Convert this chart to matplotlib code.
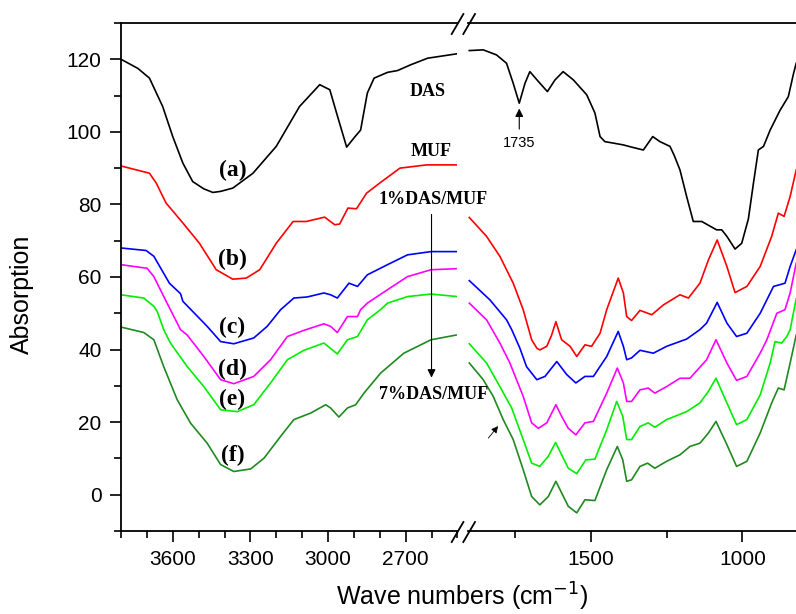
import matplotlib
matplotlib.use('Agg')
import matplotlib.pyplot as plt
from matplotlib.lines import Line2D
from matplotlib.ticker import MultipleLocator, FixedLocator

# ---------------- data ----------------
# (a) DAS
a_left_wn = [3800, 3735, 3690, 3639, 3600, 3561, 3523, 3480, 3445, 3415, 3368, 3290, 3200, 3110, 3032, 2993,
             2967, 2928, 2900, 2874, 2848, 2822, 2770, 2731, 2680, 2615, 2503]
a_left_v = [120, 117.5, 114.8, 107, 98.7, 91.4, 86.3, 84.3, 83.3, 83.6, 84.5, 88.6, 96, 107, 113, 111.6,
            105.2, 95.8, 98.3, 100.5, 110.7, 114.8, 116.4, 116.9, 118.5, 120.3, 121.5]
a_right_wn = [1902, 1856, 1812, 1779, 1757, 1737, 1718, 1702, 1674, 1644, 1619, 1592, 1558, 1514, 1487, 1470,
              1454, 1426, 1393, 1366, 1327, 1296, 1272, 1239, 1225, 1206, 1184, 1162, 1134, 1085, 1068, 1051,
              1024, 1002, 980, 963, 947, 930, 908, 875, 848, 831, 822]
a_right_v = [122.4, 122.6, 121.2, 118.9, 113.4, 107.9, 113.4, 116.6, 113.9, 111.1, 114.3, 116.6, 114.3, 110.2, 105.2, 98.7,
             97.3, 96.9, 96.4, 95.8, 95, 98.7, 97.3, 96, 93.5, 89.5, 82.2, 75.3, 75.3, 73, 73, 71.2,
             67.7, 69.3, 76, 86, 95, 96, 100.5, 106, 109.7, 116, 118.9]

# (b) MUF
b_left_wn = [3800, 3690, 3664, 3626, 3561, 3497, 3432, 3368, 3316, 3264, 3200, 3135, 3084, 3013, 2974, 2955,
             2923, 2890, 2851, 2800, 2722, 2619, 2503]
b_left_v = [90.6, 88.6, 85.9, 80.4, 74.9, 69.3, 62, 59.4, 59.7, 62, 69.3, 75.3, 75.3, 76.5, 74.4, 74.6,
            79, 78.8, 83.1, 85.9, 90, 90.9, 90.9]
b_right_wn = [1902, 1845, 1801, 1757, 1724, 1696, 1679, 1669, 1646, 1630, 1616, 1597, 1569, 1547, 1520, 1498,
              1470, 1448, 1410, 1393, 1382, 1366, 1338, 1299, 1261, 1206, 1178, 1140, 1112, 1083, 1051, 1024,
              985, 941, 903, 881, 862, 842, 822]
b_right_v = [76.4, 71.2, 65.7, 58.3, 51, 42.7, 40.4, 39.9, 40.9, 44, 47.7, 42.7, 40.9, 38.1, 41.3, 40.9,
             44.5, 51, 59.7, 55.6, 49.1, 48, 50.8, 49.6, 52.3, 55.1, 54.2, 58.3, 64.7, 70.2, 62.9, 55.7,
             57.4, 62.9, 71.2, 77.6, 76.7, 82.2, 89.5]

# (c) 1%DAS/MUF
c_left_wn = [3800, 3703, 3673, 3613, 3570, 3561, 3467, 3415, 3364, 3287, 3235, 3183, 3132, 3080, 3016, 2990,
             2964, 2919, 2886, 2848, 2770, 2693, 2602, 2499]
c_left_v = [68, 67.3, 65.7, 58.3, 55.4, 53.3, 46.4, 42.2, 41.6, 43.2, 46.4, 51, 54.2, 54.5, 55.6, 55.1,
            54.2, 58.3, 57.4, 60.6, 63.4, 66.1, 67, 67]
c_right_wn = [1902, 1834, 1779, 1762, 1735, 1713, 1679, 1652, 1613, 1580, 1550, 1520, 1492, 1448, 1410, 1393,
              1382, 1366, 1338, 1294, 1250, 1184, 1140, 1118, 1083, 1051, 1019, 985, 941, 897, 875, 859,
              842, 822]
c_right_v = [59, 53.7, 48.2, 45.5, 40.4, 35.3, 31.7, 32.6, 36.7, 33.1, 30.8, 32.6, 32.6, 38.1, 45, 40.9,
             37.2, 37.7, 39.8, 39, 40.9, 42.9, 45.5, 47.3, 53, 47.3, 43.6, 44.5, 50, 57.4, 57.9, 58.3,
             62.9, 67.5]

# (d)
d_left_wn = [3800, 3699, 3673, 3622, 3570, 3544, 3480, 3415, 3364, 3287, 3222, 3157, 3093, 3016, 2990, 2964,
             2925, 2886, 2874, 2848, 2770, 2693, 2602, 2499]
d_left_v = [63.4, 62.4, 60.1, 52.8, 45.5, 44, 38.1, 31.7, 30.6, 32.6, 37.2, 43.6, 45.3, 47.1, 46.4, 44.7,
            49.1, 49.1, 51, 52.8, 56.5, 60.1, 62, 62.3]
d_right_wn = [1902, 1845, 1801, 1768, 1724, 1696, 1674, 1646, 1616, 1597, 1575, 1550, 1520, 1492, 1448, 1413,
              1393, 1382, 1366, 1338, 1311, 1289, 1250, 1206, 1173, 1118, 1087, 1051, 1019, 985, 941, 919,
              886, 859, 842, 822]
d_right_v = [52.8, 48.2, 41.8, 36.3, 27.1, 19.8, 18.3, 19.8, 24.8, 21.6, 18.3, 16.5, 19.8, 20.2, 28, 34.9,
             30.8, 25.7, 25.7, 28.9, 29.4, 28, 29.8, 32.1, 32.1, 37.2, 42.7, 36.3, 31.5, 32.6, 39, 42.7,
             50, 51, 55.6, 63.8]

# (e)
e_left_wn = [3800, 3712, 3673, 3660, 3635, 3609, 3544, 3480, 3415, 3351, 3287, 3222, 3157, 3093, 3016, 2964,
             2925, 2886, 2848, 2797, 2770, 2693, 2602, 2499]
e_left_v = [55.1, 54.2, 51.9, 50.5, 45.5, 41.8, 35.3, 29.8, 23.4, 22.9, 24.8, 30.8, 37.2, 39.8, 41.8, 38.8,
            42.7, 43.6, 48.2, 51, 52.8, 54.6, 55.3, 54.6]
e_right_wn = [1902, 1845, 1801, 1762, 1724, 1696, 1669, 1641, 1617, 1597, 1575, 1547, 1517, 1487, 1448, 1415,
              1395, 1382, 1366, 1338, 1311, 1289, 1250, 1184, 1140, 1112, 1087, 1051, 1019, 985, 941, 908,
              892, 870, 853, 842, 822]
e_right_v = [41.6, 36.3, 29.8, 23.9, 15.2, 8.7, 7.8, 10.6, 14.4, 11, 7.3, 5.8, 9.6, 9.8, 17.9, 25.7,
             21.6, 15.2, 15.2, 18.8, 19.8, 18.6, 20.7, 22.9, 25.3, 28.5, 32.1, 25.3, 19.3, 20.7, 27.5, 36.3,
             42.2, 41.8, 43.6, 45.5, 54]

# (f) 7%DAS/MUF
f_left_wn = [3800, 3712, 3673, 3635, 3583, 3531, 3467, 3415, 3364, 3299, 3247, 3183, 3132, 3067, 3009, 2990,
             2958, 2925, 2893, 2861, 2797, 2707, 2602, 2505]
f_left_v = [46.2, 44.7, 42.7, 35.3, 26.2, 19.7, 14.2, 8.3, 6.4, 7.1, 10.1, 16.1, 20.7, 22.5, 24.8, 23.9,
            21.4, 23.9, 24.8, 28, 33.5, 39, 42.7, 44]
f_right_wn = [1902, 1856, 1823, 1790, 1757, 1724, 1696, 1669, 1641, 1616, 1597, 1575, 1547, 1520, 1487, 1448,
              1413, 1395, 1382, 1366, 1338, 1313, 1289, 1250, 1206, 1173, 1140, 1112, 1087, 1051, 1019, 985,
              941, 903, 881, 862, 842, 822]
f_right_v = [36.3, 31.7, 27.1, 20.7, 15.2, 6.9, -0.5, -2.8, -0.5, 3.7, 0.5, -3.2, -5, -1.4, -1.6, 6.9,
             13.3, 9.6, 3.7, 4.1, 7.8, 8.7, 7.3, 9.2, 11, 13.3, 14.2, 17, 20.2, 13.8, 7.8, 9.2,
             17, 25.3, 29.4, 28.9, 36.3, 44]

left_series = [(a_left_wn, a_left_v), (b_left_wn, b_left_v), (c_left_wn, c_left_v),
               (d_left_wn, d_left_v), (e_left_wn, e_left_v), (f_left_wn, f_left_v)]
right_series = [(a_right_wn, a_right_v), (b_right_wn, b_right_v), (c_right_wn, c_right_v),
                (d_right_wn, d_right_v), (e_right_wn, e_right_v), (f_right_wn, f_right_v)]
colors = ['#000000', '#ff0000', '#0000ff', '#ff00ff', '#00ee00', '#1f8a1f']
curve_labels = ['(a)', '(b)', '(c)', '(d)', '(e)', '(f)']
label_y = [89.5, 64.7, 46, 34.4, 26.2, 10.7]

left_major = [3600, 3300, 3000, 2700]
right_major = [1500, 1000]
right_minor = [1750, 1250]

# ---------------- figure ----------------
W, H = 796, 614
fig = plt.figure(figsize=(W / 100, H / 100), dpi=100)


def fx(px):
    return px / W


def fy(py):
    return 1 - py / H


axL = fig.add_axes([fx(121), fy(531), fx(457.4) - fx(121), fy(23) - fy(531)])
axR = fig.add_axes([fx(468.4), fy(531), fx(796.8) - fx(468.4), fy(23) - fy(531)])
axR.patch.set_visible(False)
axL.set_zorder(2)
axL.patch.set_visible(False)
axR.set_zorder(1)

for (wn, v), c in zip(left_series, colors):
    axL.plot(wn, v, color=c, lw=1.2)
for (wn, v), c in zip(right_series, colors):
    axR.plot(wn, v, color=c, lw=1.2)

axL.set_xlim(3800, 2500)
axR.set_xlim(1905, 820)
for ax in (axL, axR):
    ax.set_ylim(-10, 130)
    for s in ax.spines.values():
        s.set_linewidth(1.3)

axL.spines['right'].set_visible(False)
axR.spines['left'].set_visible(False)
axR.spines['right'].set_visible(False)

sans = 'Liberation Sans'
serif = 'Liberation Serif'

axL.xaxis.set_major_locator(FixedLocator(left_major))
axL.xaxis.set_minor_locator(MultipleLocator(100))
axL.yaxis.set_major_locator(MultipleLocator(20))
axL.yaxis.set_minor_locator(MultipleLocator(10))
axR.xaxis.set_major_locator(FixedLocator(right_major))
axR.xaxis.set_minor_locator(FixedLocator(right_minor))
axR.yaxis.set_major_locator(FixedLocator([]))
axR.yaxis.set_minor_locator(FixedLocator([]))

for ax in (axL, axR):
    ax.tick_params(which='major', direction='out', length=8, width=1.2, labelsize=15, pad=6,
                   top=False, right=False)
    ax.tick_params(which='minor', direction='out', length=5, width=1.2, top=False, right=False)
    for lab in ax.get_xticklabels() + ax.get_yticklabels():
        lab.set_family(sans)
axR.tick_params(axis='y', left=False, labelleft=False)

# break marks
for x0 in (451.7, 463.3):
    for yc in (24, 532):
        fig.add_artist(Line2D([fx(x0), fx(x0 + 11.7)], [fy(yc + 10), fy(yc - 10)],
                              color='black', lw=1.3))

# curve labels
for lab, yv in zip(curve_labels, label_y):
    axL.text(3369, yv, lab, ha='center', va='center', fontsize=17, fontweight='bold',
             family=serif)

tkw = dict(ha='center', va='center', fontsize=13, fontweight='bold', family=serif)
axL.text(2614, 111, 'DAS', **tkw)
axL.text(2603, 94.5, 'MUF', **tkw)
axL.text(2594, 81.3, '1%DAS/MUF', clip_on=False, **tkw)
axL.text(2594, 27.5, '7%DAS/MUF', clip_on=False, **tkw)
axL.annotate('', xy=(2600, 31.5), xytext=(2600, 78),
             arrowprops=dict(arrowstyle='-|>', color='black', lw=0.8, mutation_scale=12))

axR.annotate('', xy=(1737, 107.2), xytext=(1737, 100),
             arrowprops=dict(arrowstyle='-|>', color='black', lw=0.8, mutation_scale=12))
axR.text(1736, 97, '1735', ha='center', va='center', fontsize=10.5, family=sans)
axR.annotate('', xy=(1801, 19.5), xytext=(1845, 15),
             arrowprops=dict(arrowstyle='-|>', color='black', lw=0.6, mutation_scale=10))

fig.text(fx(22), fy(294), 'Absorption', rotation=90, ha='center', va='center',
         fontsize=18, family=sans)
fig.text(fx(462), fy(597), 'Wave numbers (cm$^{-1}$)', ha='center', va='center',
         fontsize=18, family=sans)

fig.savefig('out.png', dpi=100, facecolor='white')
